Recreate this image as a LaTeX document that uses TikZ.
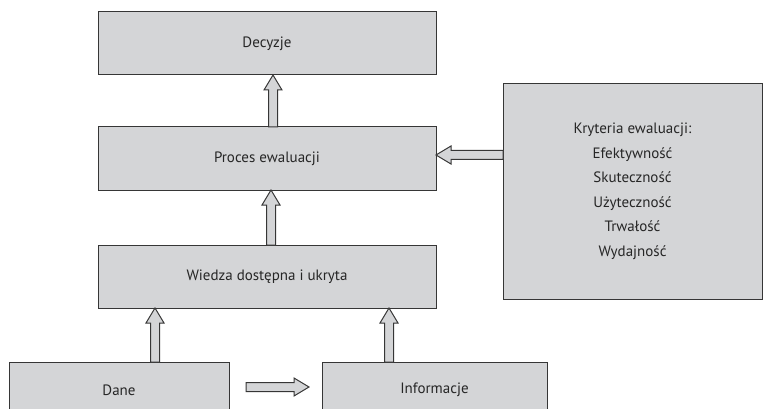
\documentclass[tikz,border=0pt]{standalone}
\usepackage{fontspec}
\setmainfont{PT Sans}
\usetikzlibrary{calc}
\usetikzlibrary{positioning}
\definecolor{boxgray}{HTML}{D4D5D7}
\definecolor{linegray}{HTML}{363636}
\providecommand*{\hollowarrow}[2]{%
    \coordinate (ha) at #1;% tail
    \coordinate (hb) at #2;% tip
    \coordinate (hh) at ($(hb)!15pt!(ha)$);
    \filldraw[arrowbox] ($(ha)!4.5pt!90:(hb)$) -- ($(hh)!4.5pt!90:(hb)$) -- ($(hh)!9pt!90:(hb)$)
        -- (hb) -- ($(hh)!9pt!-90:(hb)$) -- ($(hh)!4.5pt!-90:(hb)$) -- ($(ha)!4.5pt!-90:(hb)$) -- cycle;
}

\begin{document}
\begin{tikzpicture}[x = 1pt, y = -1pt, linegray, line width = 1pt,
    box/.style = {rectangle, draw = linegray, fill = boxgray, inner sep = 0pt, outer sep = 0pt,
                  text = black!85, font = \fontsize{15}{18}\selectfont},
    arrowbox/.style = {draw = linegray, fill = boxgray, line width = 1pt, line join = miter}]
    \useasboundingbox[clip] (0,0) rectangle (763,409);

    %\draw[help lines, opacity = 0.1] (0,0) grid (763,409);

    \node (decyzje) at (267,43.5) [box, minimum width = 338pt, minimum height = 63pt] {Decyzje};
    \node (proces) [box, minimum width = 338pt, minimum height = 63pt, below = 52pt of decyzje] {Proces ewaluacji};
    \node (wiedza) [box, minimum width = 338pt, minimum height = 63pt, below = 55pt of proces] {Wiedza dostępna i ukryta};

    \node (kryteria) at (632.5,191.5) [box, minimum width = 259pt, minimum height = 215pt, align = center]
        {Kryteria ewaluacji:\\[6.5pt] Efektywność\\[6.5pt] Skuteczność\\[6.5pt] Użyteczność\\[6.5pt] Trwałość\\[6.5pt] Wydajność};

    \node (dane) at (119,390) [box, minimum width = 220pt, minimum height = 56pt] {Dane};
    \node (informacje) at (434.5,390) [box, minimum width = 225pt, minimum height = 56pt] {Informacje};

    \hollowarrow{($(proces.north)+(6,0)$)}{($(decyzje.south)+(6,0)$)}
    \hollowarrow{($(wiedza.north)+(4,0)$)}{($(proces.south)+(4,0)$)}
    \hollowarrow{($(dane.north)+(36,0)$)}{($(wiedza.south)+(-112,0)$)}
    \hollowarrow{($(informacje.north)+(-45.5,0)$)}{($(wiedza.south)+(122,0)$)}
    \hollowarrow{($(kryteria.west)+(0,-36.5)$)}{($(proces.east)+(0,-3.5)$)}
    \hollowarrow{($(dane.east)+(17,-3)$)}{($(informacje.west)+(-13,-3)$)}

\end{tikzpicture}
\end{document}
